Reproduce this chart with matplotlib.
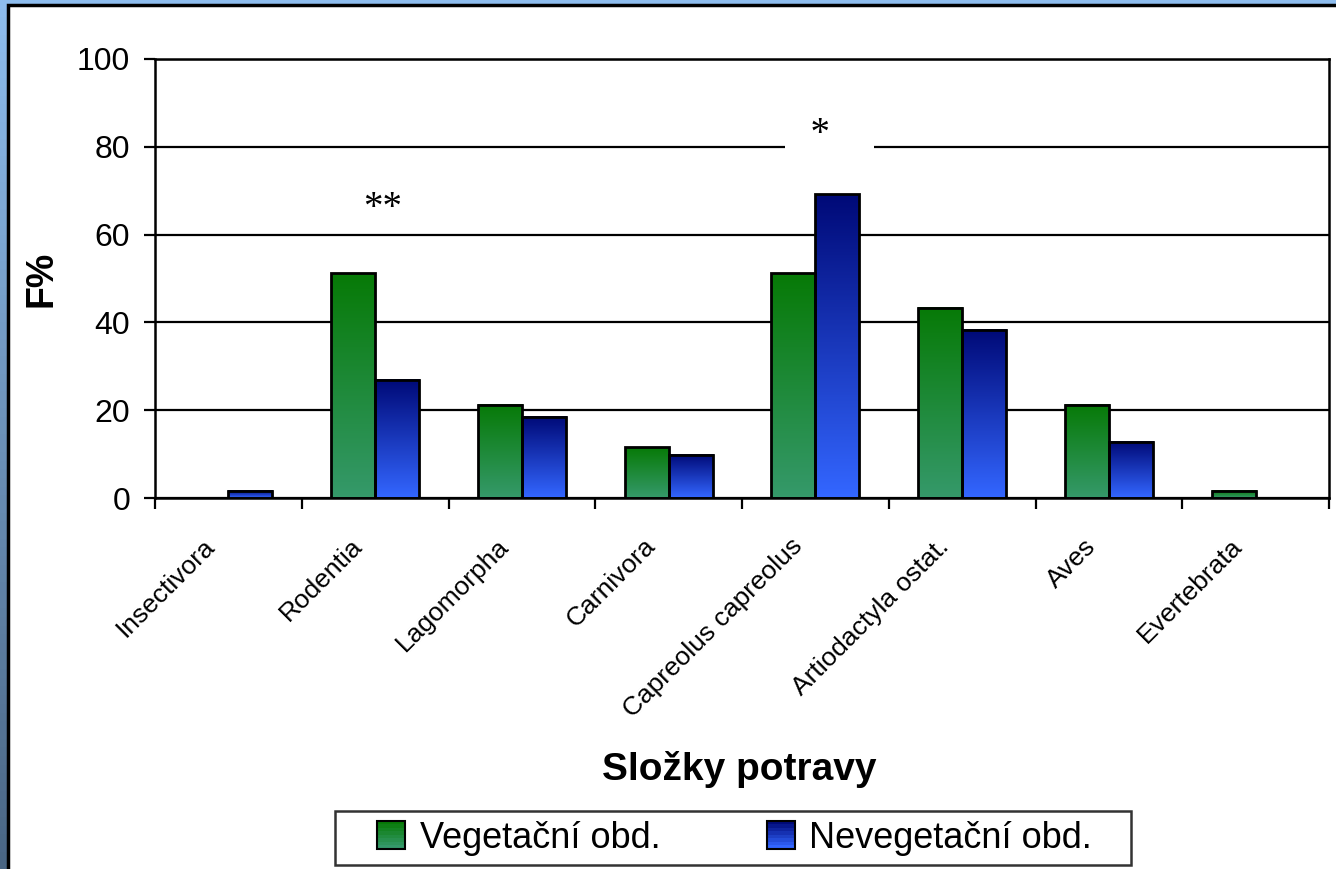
import numpy as np
import matplotlib
matplotlib.use('Agg')
import matplotlib.pyplot as plt
from matplotlib.patches import Rectangle
from matplotlib.colors import LinearSegmentedColormap, to_rgb
from matplotlib.transforms import ScaledTranslation

# data
categories = ['Insectivora', 'Rodentia', 'Lagomorpha', 'Carnivora',
              'Capreolus capreolus', 'Artiodactyla ostat.', 'Aves', 'Evertebrata']
veg = [0, 51.2, 21.2, 11.6, 51.2, 43.3, 21.2, 1.6]
neveg = [1.6, 26.9, 18.5, 9.9, 69.2, 38.3, 12.8, 0]
series_names = ['Vegetační obd.', 'Nevegetační obd.']
marks = [('**', 1, 66), ('*', 4, 78.5)]

plt.rcParams['font.family'] = ['Liberation Sans', 'DejaVu Sans']

green = ('#077a07', '#35996a')
blue = ('#000a78', '#3366ff')

fig = plt.figure(figsize=(13.36, 8.69), dpi=100)

# background: blue gradient with white framed panel
bg = fig.add_axes([0, 0, 1, 1], zorder=-10)
bg.imshow(np.linspace(0, 1, 100).reshape(-1, 1), aspect='auto', extent=[0, 1, 0, 1],
          cmap=LinearSegmentedColormap.from_list('bg', ['#8ebdee', '#4a6684']))
bg.add_patch(Rectangle((8 / 1336, -0.1), 1.2, 1.1 - 5 / 869,
                       facecolor='white', edgecolor='black', lw=2.5,
                       transform=bg.transAxes))
bg.set_xlim(0, 1)
bg.set_ylim(0, 1)
bg.axis('off')

ax = fig.add_axes([155 / 1336, 1 - 498 / 869, 1174 / 1336, 439 / 869])
ax.set_facecolor('none')

x = np.arange(len(categories))
w = 0.3


def grad_bars(xs, heights, cols):
    cm = LinearSegmentedColormap.from_list('g', [cols[1], cols[0]])
    grad = np.linspace(0, 1, 64).reshape(-1, 1)[::-1]
    for xi, h in zip(xs, heights):
        if h <= 0:
            continue
        ax.imshow(grad, cmap=cm, aspect='auto', extent=[xi - w / 2, xi + w / 2, 0, h],
                  zorder=3, interpolation='bilinear')
    ax.bar(xs, heights, w, fill=False, edgecolor='black', lw=2, zorder=4)


grad_bars(x - w / 2, veg, green)
grad_bars(x + w / 2, neveg, blue)

ax.set_xlim(-0.5, len(categories) - 0.5)
ax.set_ylim(0, 100)
ax.set_yticks(range(0, 101, 20))
ax.yaxis.grid(True, color='black', lw=1.6, zorder=1)
ax.set_axisbelow(True)
for s in ax.spines.values():
    s.set_linewidth(1.8)
    s.set_zorder(5)
ax.tick_params(axis='y', direction='out', length=8, width=1.6, labelsize=23, pad=10)

ax.set_xticks(x)
ax.set_xticklabels(categories, rotation=45, ha='right', va='center',
                   rotation_mode='anchor', fontsize=19)
ax.tick_params(axis='x', which='major', length=0, pad=32)
ax.set_xticks(np.arange(-0.5, len(categories), 1), minor=True)
ax.tick_params(axis='x', which='minor', direction='out', length=8, width=1.6)
for lab in ax.get_xticklabels():
    lab.set_transform(lab.get_transform() + ScaledTranslation(-0.17, 0, fig.dpi_scale_trans))

ax.set_ylabel('F%', fontsize=27, fontweight='bold')
ax.yaxis.set_label_coords(-0.081, 0.5)

# significance marks (the single one sits on a white patch that breaks the 80 gridline)
for txt, xi, yi in marks:
    if txt == '*':
        ax.text(xi + 0.098, yi, '  ' + txt + '    ', fontsize=28, family='Liberation Serif',
                ha='center', va='bottom', zorder=6,
                bbox=dict(facecolor='white', edgecolor='none', pad=4))
    else:
        ax.text(xi + 0.05, yi, txt, fontsize=28, family='Liberation Serif',
                ha='center', va='center', zorder=6)

fig.text(739 / 1336, 1 - 770 / 869, 'Složky potravy', fontsize=28, fontweight='bold',
         ha='center', va='center')


class GradHandler:
    def __init__(self, cols):
        self.cols = cols

    def legend_artist(self, legend, orig_handle, fontsize, handlebox):
        hw, hh = handlebox.width, handlebox.height
        side = 20
        x0 = handlebox.xdescent + hw - side
        y0 = handlebox.ydescent + (hh - side) / 2
        top = np.array(to_rgb(self.cols[0]))
        bot = np.array(to_rgb(self.cols[1]))
        n = 8
        for i in range(n):
            c = bot + (top - bot) * i / (n - 1)
            handlebox.add_artist(Rectangle((x0, y0 + i * side / n), side, side / n,
                                           facecolor=c, edgecolor='none',
                                           transform=handlebox.get_transform()))
        border = Rectangle((x0, y0), side, side, fill=False, edgecolor='black', lw=1.5,
                           transform=handlebox.get_transform())
        handlebox.add_artist(border)
        return border


h1 = Rectangle((0, 0), 1, 1)
h2 = Rectangle((0, 0), 1, 1)
leg = fig.legend([h1, h2], [series_names[0] + '   ', series_names[1] + '   '],
                 handler_map={h1: GradHandler(green), h2: GradHandler(blue)},
                 loc='center', bbox_to_anchor=(733 / 1336, 1 - 838 / 869), ncol=2,
                 fontsize=26, frameon=True, fancybox=False, edgecolor='black',
                 borderpad=0.25, handlelength=1.7, handletextpad=0.4, columnspacing=1.2)
leg.get_frame().set_linewidth(1.8)

fig.savefig('out.png', dpi=100)
